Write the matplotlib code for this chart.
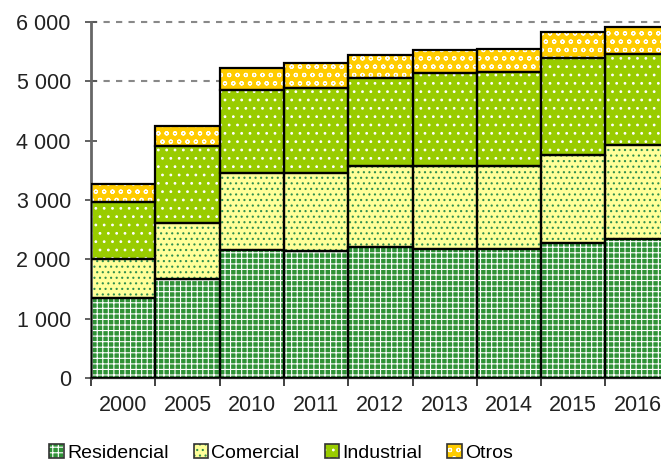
import numpy as np
import matplotlib
matplotlib.use("Agg")
import matplotlib.pyplot as plt
import matplotlib.patches as mpatches

years = ["2000", "2005", "2010", "2011", "2012", "2013", "2014", "2015", "2016"]
residencial = [1350, 1670, 2160, 2140, 2210, 2175, 2180, 2275, 2345]
comercial = [660, 940, 1300, 1315, 1365, 1400, 1400, 1485, 1580]
industrial = [960, 1300, 1400, 1430, 1485, 1570, 1570, 1635, 1535]
otros = [305, 335, 370, 420, 385, 385, 390, 440, 455]

y_ticks = [0, 1000, 2000, 3000, 4000, 5000, 6000]
y_labels = ["0", "1 000", "2 000", "3 000", "4 000", "5 000", "6 000"]
grid_levels = [5000, 6000]

# (name, values, face colour, hatch colour, hatch)
series = [
    ("Residencial", residencial, "#2f9237", "white", "+++"),
    ("Comercial", comercial, "#ffff99", "#2f8f4f", "..."),
    ("Industrial", industrial, "#99cc00", "white", ".."),
    ("Otros", otros, "#ffcc00", "white", "oo"),
]

plt.rcParams["font.family"] = ["Liberation Sans", "DejaVu Sans"]
plt.rcParams["hatch.linewidth"] = 0.8

fig = plt.figure(figsize=(6.61, 4.66), dpi=100)
ax = fig.add_axes([91 / 661, 88 / 466, 570 / 661, 356 / 466])

x = np.arange(len(years))
bottom = np.zeros(len(years))
handles = []
for name, vals, face, hcol, hatch in series:
    vals = np.array(vals, dtype=float)
    ax.bar(x, vals, width=1.0, bottom=bottom, color=face, edgecolor=hcol,
           hatch=hatch, linewidth=0, zorder=2)
    ax.bar(x, vals, width=1.0, bottom=bottom, fill=False, edgecolor="black",
           linewidth=1.6, zorder=3)
    bottom += vals
    h1 = mpatches.Patch(facecolor=face, edgecolor=hcol, hatch=hatch, linewidth=0)
    h2 = mpatches.Patch(fill=False, edgecolor="#333333", linewidth=1.2)
    handles.append(((h1, h2), name))

ax.set_yticks(y_ticks)
ax.set_yticklabels(y_labels, fontsize=15.5, color="#222222")
ax.tick_params(axis="y", direction="inout", length=9, width=1.3, color="#555555", pad=10)

ax.set_xticks(x)
ax.set_xticklabels(years, fontsize=15.5, color="#222222")
ax.set_xticks(np.arange(len(years) + 1) - 0.5, minor=True)
ax.tick_params(axis="x", which="major", length=0, pad=12)
ax.tick_params(axis="x", which="minor", direction="out", length=6, width=1.3, color="#333333")

# category width ~64.3 px, last bar cut at the right edge (set after ticks)
ax.set_xlim(-0.5, -0.5 + 570 / 64.3)
ax.set_ylim(0, 6000)

for level in grid_levels:
    ax.axhline(level, linestyle=(0, (3, 3)), color="#888888", linewidth=1.5,
               zorder=0, clip_on=False)

for side in ["top", "right"]:
    ax.spines[side].set_visible(False)
ax.spines["left"].set_color("#666666")
ax.spines["left"].set_linewidth(2)
ax.spines["bottom"].set_color("#222222")
ax.spines["bottom"].set_linewidth(1.6)

fig.legend([h for h, _ in handles], [n for _, n in handles],
           loc="center", bbox_to_anchor=(281 / 661, 13 / 466), ncol=4,
           frameon=False, fontsize=14, handlelength=0.75, handleheight=0.75,
           handletextpad=0.15, columnspacing=1.3, borderaxespad=0)

fig.savefig("out.png", dpi=100)
